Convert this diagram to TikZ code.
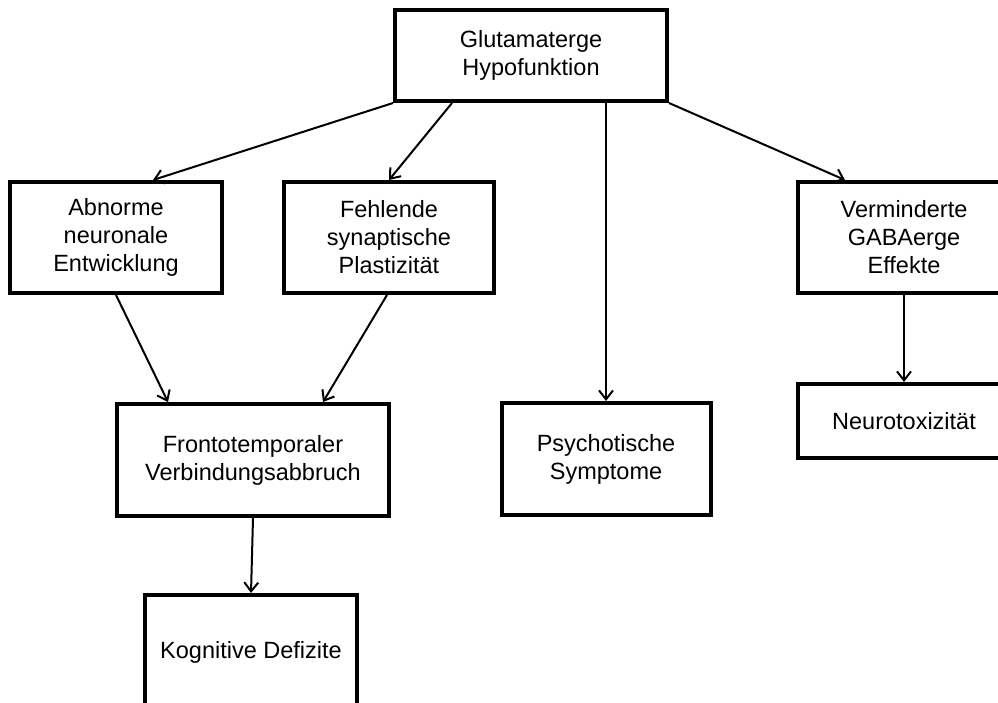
\documentclass[tikz,border=0pt]{standalone}
\usepackage{fontspec}
\setmainfont{Liberation Sans}
\usepackage{tikz}
\usetikzlibrary{arrows.meta, positioning, calc}

\begin{document}
\begin{tikzpicture}[x=1pt, y=-1pt,
    every node/.style={font=\fontsize{23.5pt}{28pt}\selectfont},
    box/.style={draw=black, line width=4pt, align=center, inner sep=0pt},
    link/.style={line width=2pt, -{Straight Barb[length=9pt, width=14pt, line width=2pt]}}]
    % Frame
    \clip (0, 0) rectangle (998, 702);
    \fill[white] (0, 0) rectangle (998, 702);

    % Top
    \node[box, minimum width=272pt, minimum height=91pt] (glut) at (531, 55.5)
      {Glutamaterge\\Hypofunktion};

    % Second row
    \node[box, minimum width=212pt, minimum height=111pt] (abnorm) at (116, 237.5)
      {Abnorme\\neuronale\\Entwicklung};
    \node[box, minimum width=210pt, minimum height=111pt] (fehl) at (389, 237.5)
      {Fehlende\\synaptische\\Plastizit\"at};
    \node[box, minimum width=212pt, minimum height=111pt] (verm) at (904, 237.5)
      {Verminderte\\GABAerge\\Effekte};

    % Third row
    \node[box, minimum width=212pt, minimum height=74pt] (neuro) at (904, 421)
      {Neurotoxizit\"at};
    \node[box, minimum width=272pt, minimum height=112pt] (fronto) at (253, 460)
      {Frontotemporaler\\Verbindungsabbruch};
    \node[box, minimum width=209pt, minimum height=112pt] (psych) at (606, 459)
      {Psychotische\\Symptome};

    % Bottom
    \node[box, minimum width=212pt, minimum height=114pt] (kogn) at (251, 652)
      {Kognitive Defizite};

    % Arrows from the top
    \draw[link] (glut.south west) -- ([xshift=37pt]abnorm.north);
    \draw[link] ([xshift=-79pt]glut.south) -- (fehl.north);
    \draw[link] (glut.south -| psych.north) -- (psych.north);
    \draw[link] (glut.south east) -- ([xshift=-59pt]verm.north);

    % Arrows below
    \draw[link] (abnorm.south) -- ([xshift=-85pt]fronto.north);
    \draw[link] ([xshift=-2pt]fehl.south) -- ([xshift=70pt]fronto.north);
    \draw[link] (verm.south) -- (neuro.north);
    \draw[link] (fronto.south) -- (kogn.north);
  \end{tikzpicture}
\end{document}
